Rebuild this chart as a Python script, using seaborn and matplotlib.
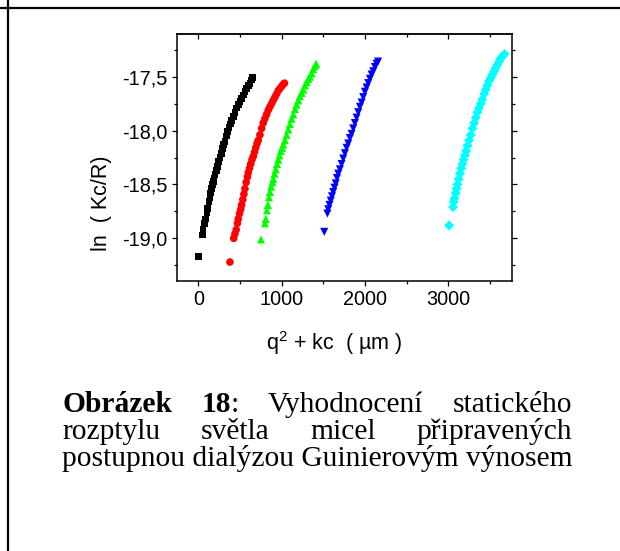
import numpy as np
import pandas as pd
import matplotlib
matplotlib.use("Agg")
import matplotlib.pyplot as plt
import matplotlib.transforms as mtransforms
from matplotlib.lines import Line2D
from matplotlib.ticker import MultipleLocator, FixedLocator
import seaborn as sns

# ---------------- data ----------------
black_x = [0, 50, 58, 75, 85, 105, 115, 130, 140, 150, 160, 170, 180, 190, 200, 215, 230,
           245, 260, 275, 290, 305, 320, 340, 355, 370, 385, 400, 420, 440, 460, 480, 500,
           520, 540, 560, 580, 600, 620, 640, 655]
black_y = [-19.17, -18.97, -18.92, -18.86, -18.82, -18.76, -18.72, -18.66, -18.62, -18.58,
           -18.54, -18.50, -18.47, -18.44, -18.41, -18.37, -18.33, -18.29, -18.25, -18.21,
           -18.17, -18.13, -18.10, -18.05, -18.01, -17.97, -17.94, -17.91, -17.87, -17.83,
           -17.79, -17.76, -17.73, -17.70, -17.67, -17.64, -17.61, -17.58, -17.56, -17.53, -17.51]

red_x = [380, 425, 440, 455, 470, 480, 495, 510, 520, 535, 548, 560, 575, 590, 600, 615, 630,
         645, 660, 675, 690, 705, 720, 740, 760, 780, 800, 820, 840, 860, 880, 900, 920, 940,
         960, 980, 1000, 1020, 1035]
red_y = [-19.22, -19.00, -18.96, -18.92, -18.86, -18.82, -18.77, -18.73, -18.69, -18.64,
         -18.59, -18.54, -18.48, -18.43, -18.39, -18.35, -18.31, -18.27, -18.24, -18.20,
         -18.16, -18.12, -18.09, -18.04, -17.98, -17.93, -17.89, -17.85, -17.81, -17.78,
         -17.75, -17.72, -17.69, -17.66, -17.63, -17.61, -17.59, -17.57, -17.56]

green_x = [753, 800, 810, 825, 835, 848, 860, 875, 890, 900, 915, 930, 945, 960, 975, 990,
           1005, 1020, 1040, 1060, 1080, 1100, 1120, 1140, 1160, 1180, 1200, 1220, 1240,
           1260, 1280, 1300, 1320, 1340, 1360, 1380, 1400, 1415]
green_y = [-19.01, -18.86, -18.82, -18.74, -18.69, -18.62, -18.57, -18.52, -18.48, -18.45,
           -18.40, -18.36, -18.31, -18.27, -18.23, -18.19, -18.16, -18.13, -18.09, -18.04,
           -17.99, -17.94, -17.89, -17.85, -17.80, -17.76, -17.72, -17.68, -17.65, -17.62,
           -17.58, -17.55, -17.52, -17.50, -17.47, -17.43, -17.40, -17.38]

blue_x = [1512, 1550, 1560, 1575, 1590, 1605, 1620, 1635, 1650, 1665, 1680, 1700, 1720, 1740,
          1760, 1780, 1800, 1820, 1840, 1860, 1880, 1900, 1920, 1940, 1960, 1980, 2000, 2020,
          2040, 2060, 2080, 2100, 2120, 2140, 2158]
blue_y = [-18.94, -18.77, -18.73, -18.69, -18.65, -18.61, -18.57, -18.53, -18.49, -18.44,
          -18.40, -18.36, -18.31, -18.26, -18.21, -18.16, -18.12, -18.07, -18.03, -17.98,
          -17.93, -17.88, -17.83, -17.78, -17.74, -17.69, -17.64, -17.60, -17.56, -17.52,
          -17.48, -17.45, -17.41, -17.38, -17.36]

cyan_x = [3010, 3058, 3065, 3075, 3090, 3100, 3110, 3125, 3140, 3155, 3170, 3185, 3200, 3215,
          3230, 3250, 3270, 3290, 3310, 3330, 3350, 3370, 3390, 3410, 3430, 3450, 3470, 3490,
          3510, 3530, 3550, 3570, 3590, 3610, 3630, 3650, 3675]
cyan_y = [-18.88, -18.71, -18.66, -18.63, -18.58, -18.54, -18.50, -18.45, -18.40, -18.35,
          -18.31, -18.27, -18.23, -18.19, -18.14, -18.09, -18.04, -17.98, -17.93, -17.88,
          -17.83, -17.79, -17.75, -17.71, -17.66, -17.62, -17.58, -17.54, -17.51, -17.48,
          -17.45, -17.42, -17.39, -17.36, -17.33, -17.31, -17.29]

x_ticks = [0, 1000, 2000, 3000]
x_tick_labels = ["0", "1000", "2000", "3000"]
y_ticks = [-19.0, -18.5, -18.0, -17.5]
y_tick_labels = ["-19,0", "-18,5", "-18,0", "-17,5"]

x_label = "q$^\\mathregular{2}$ + kc  ( µm )"
y_label = "ln  ( Kc/R)"

caption_lines = [
    [[("Obrázek", True)], [("18", True), (":", False)], [("Vyhodnocení", False)], [("statického", False)]],
    [[("rozptylu", False)], [("světla", False)], [("micel", False)], [("připravených", False)]],
    [[("postupnou dialýzou Guinierovým výnosem", False)]],
]

# ---------------- styling ----------------
series = [
    ("black", black_x, black_y, "s", "#000000", 24),
    ("red", red_x, red_y, "o", "#ff0000", 30),
    ("green", green_x, green_y, "^", "#00ff00", 34),
    ("blue", blue_x, blue_y, "v", "#0000ff", 34),
    ("cyan", cyan_x, cyan_y, "D", "#00ffff", 26),
]

sns.set_theme(style="ticks")
plt.rcParams['font.family'] = ['Liberation Sans', 'DejaVu Sans']
plt.rcParams['mathtext.fontset'] = 'custom'
plt.rcParams['mathtext.rm'] = 'Liberation Sans'

W, H = 620, 551
fig = plt.figure(figsize=(W / 100, H / 100), dpi=100)
fig.patch.set_facecolor("white")

ax_l, ax_r, ax_t, ax_b = 177, 512, 34, 281
ax = fig.add_axes([ax_l / W, 1 - ax_b / H, (ax_r - ax_l) / W, (ax_b - ax_t) / H])
ax.set_facecolor("white")

for name, xs, ys, mk, col, sz in series:
    d = pd.DataFrame({"x": xs, "y": ys})
    sns.scatterplot(data=d, x="x", y="y", marker=mk, color=col, s=sz,
                    linewidth=0, edgecolor="none", ax=ax, legend=False, zorder=3)

ax.set_xlim(-255, 3765)
ax.set_ylim(-19.396, -17.104)
ax.set_xlabel("")
ax.set_ylabel("")

fs_tick = 14.3
ax.xaxis.set_major_locator(FixedLocator(x_ticks))
ax.set_xticklabels(x_tick_labels)
ax.yaxis.set_major_locator(FixedLocator(y_ticks))
ax.set_yticklabels(y_tick_labels)
ax.xaxis.set_minor_locator(MultipleLocator(500))
ax.yaxis.set_minor_locator(MultipleLocator(0.25))

for sp in ax.spines.values():
    sp.set_visible(True)
    sp.set_color("black")
    sp.set_linewidth(1.1)

ax.tick_params(which="both", direction="out", top=False, right=True, bottom=True, left=True,
               color="black", labelcolor="black", labelsize=fs_tick, width=0.9)
ax.tick_params(which="major", length=3.8, pad=3.0)
ax.tick_params(which="minor", length=2.2)

# top ticks point inward
sec = ax.secondary_xaxis("top")
sec.xaxis.set_major_locator(FixedLocator(x_ticks))
sec.xaxis.set_minor_locator(MultipleLocator(500))
sec.tick_params(which="both", direction="in", labeltop=False, color="black", width=0.9)
sec.tick_params(which="major", length=3.8)
sec.tick_params(which="minor", length=2.2)
sec.spines["top"].set_linewidth(1.1)

# axis labels
fs_lab = 15.5
fig.text(334 / W, 1 - 343 / H, x_label, ha="center", va="center", fontsize=fs_lab, color="black")
fig.text(102 / W, 1 - 203 / H, y_label, ha="center", va="center", rotation=90,
         fontsize=fs_lab, color="black")

# page frame lines
fig.add_artist(Line2D([0, 1], [1 - 8 / H, 1 - 8 / H], transform=fig.transFigure,
                      color="black", lw=1.6))
fig.add_artist(Line2D([8 / W, 8 / W], [0, 1], transform=fig.transFigure,
                      color="black", lw=1.6))

# justified caption
renderer = fig.canvas.get_renderer()
ident = mtransforms.IdentityTransform()
left_px, right_px = 62, 572
serif = ["Liberation Serif", "DejaVu Serif"]

probe = fig.text(0, 0, caption_lines[2][0][0][0], family=serif, fontsize=10, transform=ident)
wprobe = probe.get_window_extent(renderer).width
probe.remove()
fs_cap = 10 * (right_px - left_px) / wprobe

baselines = [412, 439, 466]
for line, base in zip(caption_lines, baselines):
    y = H - base
    words = []
    for word in line:
        segs = []
        for txt, bold in word:
            t = fig.text(0, y, txt, family=serif, fontsize=fs_cap,
                         fontweight="bold" if bold else "normal",
                         ha="left", va="baseline", transform=ident, color="black")
            segs.append((t, t.get_window_extent(renderer).width))
        words.append(segs)
    widths = [sum(w for _, w in segs) for segs in words]
    gap = (right_px - left_px - sum(widths)) / (len(words) - 1) if len(words) > 1 else 0
    x = left_px
    for segs, wd in zip(words, widths):
        xx = x
        for t, w in segs:
            t.set_position((xx, y))
            xx += w
        x += wd + gap

fig.savefig("out.png", dpi=100, facecolor="white")
